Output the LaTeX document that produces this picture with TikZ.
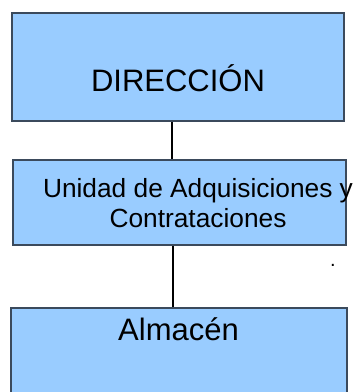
\documentclass[tikz,border=0pt]{standalone}
\usepackage{fontspec}
\setmainfont{Liberation Sans}
\usepackage{xcolor}
\usetikzlibrary{positioning}
\definecolor{boxfill}{HTML}{99CCFF}
\definecolor{boxline}{HTML}{3B4A5C}

\begin{document}
\begin{tikzpicture}[
    x=1pt, y=1pt,
    box/.style={rectangle, draw=boxline, line width=1.3pt, fill=boxfill, inner sep=0pt},
    bigtext/.style={font=\fontsize{31}{36}\selectfont, anchor=base},
    midtext/.style={font=\fontsize{26.3}{30}\selectfont, align=center, anchor=base},
    link/.style={black, line width=2pt}
]
\clip (0,0) rectangle (356,-392);

% Direccion
\node[box, minimum width=332pt, minimum height=108pt] (dir) at (178,-67) {};
\node[bigtext] (dirtext) at (178,-91) {DIRECCIÓN};

% Unidad de Adquisiciones
\node[box, minimum width=333pt, minimum height=85pt] (uac) at (179.5,-202.5) {};
\node[midtext] (uactext) at (198,-227) {Unidad de Adquisiciones y\\Contrataciones};

% Almacen
\node[box, minimum width=336pt, minimum height=120pt] (alm) at (179,-368) {};
\node[bigtext] (almtext) at (178.5,-340) {Almacén};

% punto suelto
\node[font=\fontsize{20}{22}\selectfont, anchor=base, inner sep=0pt] (dot) at (333,-266) {.};

% Lineas
\draw[link] ([xshift=-6pt]dir.south) -- ([xshift=-7.5pt]uac.north);
\draw[link] ([xshift=-6.5pt]uac.south) -- ([xshift=-6pt]alm.north);

\end{tikzpicture}
\end{document}
